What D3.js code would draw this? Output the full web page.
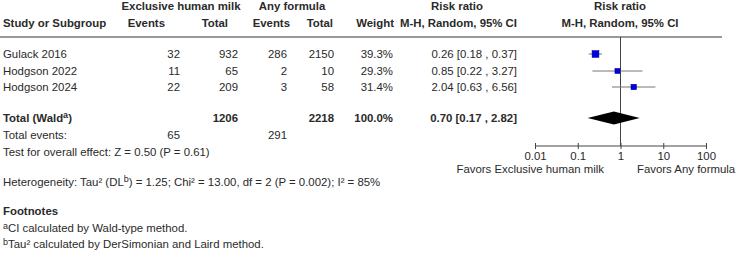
<!DOCTYPE html>
<html><head><meta charset="utf-8">
<script src="https://cdn.jsdelivr.net/npm/d3@7"></script>
<style>
body{margin:0;background:#fff;}
svg{display:block;font-family:"Liberation Sans",Arial,sans-serif;font-size:11.4px;fill:#2a2a2a;}
.b{font-weight:bold;}
</style></head><body>
<svg id="c" width="737" height="258"></svg>
<script>
const studies = ["Gulack 2016","Hodgson 2022","Hodgson 2024"];
const expEvents = [32,11,22];
const expTotal = [932,65,209];
const ctlEvents = [286,2,3];
const ctlTotal = [2150,10,58];
const weights = [39.3,29.3,31.4];
const rr = [0.26,0.85,2.04];
const rrLo = [0.18,0.22,0.63];
const rrHi = [0.37,3.27,6.56];
const totalN = [1206,2218];
const totalEvents = [65,291];
const pooled = {rr:0.70, lo:0.17, hi:2.82, weight:100.0};
const ticks = [0.01,0.1,1,10,100];

const svg = d3.select("#c");
const x = d3.scaleLog().domain([0.01,100]).range([535,706]);
const size = d3.scaleLinear().domain([0,40]).range([0,7]);
const rowY = [54,71,87];
const yTot = 118;
const f2 = d3.format(".2f");

function t(xp, yp, s, anchor, cls){
  return svg.append("text").attr("x",xp).attr("y",yp).attr("text-anchor",anchor||"start").attr("class",cls||null).text(s);
}
// headers
t(181,10,"Exclusive human milk","middle","b");
t(292,10,"Any formula","middle","b");
t(457,10,"Risk ratio","middle","b");
t(620,10,"Risk ratio","middle","b");
t(3,27,"Study or Subgroup","start","b");
t(165,27,"Events","end","b");
t(228,27,"Total","end","b");
t(290,27,"Events","end","b");
t(333,27,"Total","end","b");
t(394,27,"Weight","end","b");
t(517,27,"M-H, Random, 95% CI","end","b");
t(620,27,"M-H, Random, 95% CI","middle","b");

svg.append("line").attr("x1",0).attr("x2",722).attr("y1",37).attr("y2",37).attr("stroke","#999").attr("stroke-width",2);
svg.append("line").attr("x1",x(1)).attr("x2",x(1)).attr("y1",37).attr("y2",146).attr("stroke","#444").attr("stroke-width",1);

studies.forEach((s,i)=>{
  const y = rowY[i]+4;
  t(3,y,s);
  t(180,y,expEvents[i],"end");
  t(238,y,expTotal[i],"end");
  t(287,y,ctlEvents[i],"end");
  t(334,y,ctlTotal[i],"end");
  t(393,y,weights[i].toFixed(1)+"%","end");
  t(517,y,`${f2(rr[i])} [${f2(rrLo[i])} , ${f2(rrHi[i])}]`,"end");
  svg.append("line").attr("x1",x(rrLo[i])).attr("x2",x(rrHi[i])).attr("y1",rowY[i]).attr("y2",rowY[i]).attr("stroke","#777").attr("stroke-width",1);
  const w = size(weights[i]);
  svg.append("rect").attr("x",x(rr[i])-w/2).attr("y",rowY[i]-w/2).attr("width",w).attr("height",w).attr("fill","#0000e0").attr("stroke","#00008b").attr("stroke-width",0.5);
});

// total row
const tt = t(3,yTot+4,"","start","b");
tt.append("tspan").text("Total (Wald");
tt.append("tspan").attr("dy",-4).attr("font-size","9px").text("a");
tt.append("tspan").attr("dy",4).text(")");
t(238,yTot+4,totalN[0],"end","b");
t(334,yTot+4,totalN[1],"end","b");
t(393,yTot+4,pooled.weight.toFixed(1)+"%","end","b");
t(517,yTot+4,`${f2(pooled.rr)} [${f2(pooled.lo)} , ${f2(pooled.hi)}]`,"end","b");
svg.append("path").attr("d",`M${x(pooled.lo)},${yTot}L${x(pooled.rr)},${yTot-6.5}L${x(pooled.hi)},${yTot}L${x(pooled.rr)},${yTot+6.5}Z`).attr("fill","#000");

t(3,139,"Total events:");
t(180,139,totalEvents[0],"end");
t(287,139,totalEvents[1],"end");
t(3,156,"Test for overall effect: Z = 0.50 (P = 0.61)");

const h = t(3,186,"");
h.append("tspan").text("Heterogeneity: Tau² (DL");
h.append("tspan").attr("dy",-4).attr("font-size","9px").text("b");
h.append("tspan").attr("dy",4).text(") = 1.25; Chi² = 13.00, df = 2 (P = 0.002); I² = 85%");

t(3,215,"Footnotes","start","b");
const f1 = t(3,232,"");
f1.append("tspan").attr("dy",-3).attr("font-size","9px").text("a");
f1.append("tspan").attr("dy",3).text("CI calculated by Wald-type method.");
const f3 = t(3,248,"");
f3.append("tspan").attr("dy",-3).attr("font-size","9px").text("b");
f3.append("tspan").attr("dy",3).text("Tau² calculated by DerSimonian and Laird method.");

// axis
const ax = svg.append("g").attr("transform","translate(0,146)")
  .call(d3.axisBottom(x).tickValues(ticks).tickFormat(d=>String(d)).tickSize(3).tickPadding(2.5));
ax.select(".domain").attr("stroke","#444").attr("d",`M${x(0.01)},0H${x(100)}`);
ax.selectAll(".tick line").attr("y1",-3).attr("y2",3).attr("stroke","#444");
ax.selectAll(".tick text").attr("font-family","Liberation Sans, Arial, sans-serif").attr("font-size","11.4px").attr("fill","#2a2a2a");
t(604,173,"Favors Exclusive human milk","end");
t(637,173,"Favors Any formula","start");
</script>
</body></html>
